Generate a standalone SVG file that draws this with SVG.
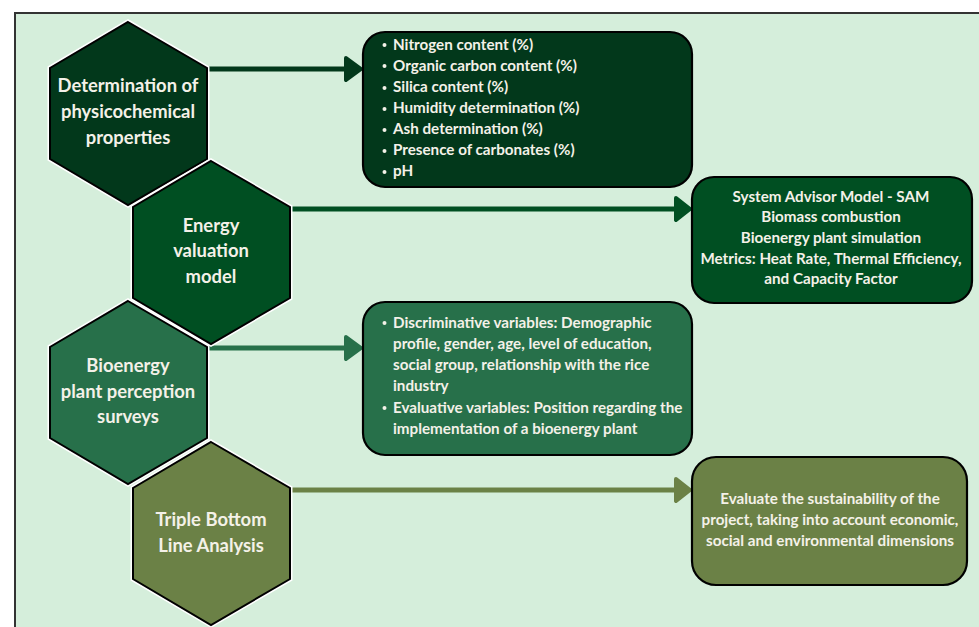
<svg xmlns="http://www.w3.org/2000/svg" width="979" height="627" viewBox="0 0 979 627">
<style>
.hex-under{stroke:#ffffff;stroke-width:5;stroke-linejoin:miter}
.hex{stroke:#000000;stroke-width:2;stroke-linejoin:miter}
.box{stroke:#000000;stroke-width:2.2}
.ht{font-family:Lato,"Open Sans","Liberation Sans",sans-serif;font-weight:700;font-size:18.4px;fill:#f4f1e8;text-anchor:middle}
.bt{font-family:Lato,"Open Sans","Liberation Sans",sans-serif;font-weight:700;font-size:15.2px;fill:#f4f1e8}
.bc{text-anchor:middle}
.dot{fill:#f4f1e8}
.c1{fill:#02381b}
.c2{fill:#004f22}
.c3{fill:#27704a}
.c4{fill:#6b8146}
</style>
<defs>
<polygon id="hexshape" points="0,-91 79,-45 79,46 0,92 -78,46 -78,-45"/>
<circle id="bul" r="2" cx="0" cy="0"/>
</defs>
<rect x="0" y="0" width="979" height="627" fill="#ffffff"/>
<rect x="15" y="13" width="980" height="630" fill="#d5eedb" stroke="#333333" stroke-width="2"/>

<g id="connectors" stroke-linejoin="round" stroke-linecap="butt">
<line x1="207" y1="69" x2="348" y2="69" stroke="#02381b" stroke-width="5"/>
<polygon points="346,58 361,69 346,80" fill="#02381b" stroke="#02381b" stroke-width="4"/>
<line x1="290" y1="209" x2="678" y2="209" stroke="#004f22" stroke-width="5"/>
<polygon points="676,198 690,209 676,220" fill="#004f22" stroke="#004f22" stroke-width="4"/>
<line x1="207" y1="348" x2="348" y2="348" stroke="#27704a" stroke-width="5"/>
<polygon points="346,337 361,348 346,359" fill="#27704a" stroke="#27704a" stroke-width="4"/>
<line x1="290" y1="490" x2="678" y2="490" stroke="#6b8146" stroke-width="5"/>
<polygon points="676,479 690,490 676,501" fill="#6b8146" stroke="#6b8146" stroke-width="4"/>
</g>

<g id="hex1">
<use href="#hexshape" x="128" y="113" class="hex-under c1"/>
<use href="#hexshape" x="128" y="113" class="hex c1"/>
<text class="ht" x="128" y="92">Determination of</text>
<text class="ht" x="128" y="118">physicochemical</text>
<text class="ht" x="128" y="144">properties</text>
</g>
<g id="hex2">
<use href="#hexshape" x="211" y="252" class="hex-under c2"/>
<use href="#hexshape" x="211" y="252" class="hex c2"/>
<text class="ht" x="211" y="232">Energy</text>
<text class="ht" x="211" y="257">valuation</text>
<text class="ht" x="211" y="283">model</text>
</g>
<g id="hex3">
<use href="#hexshape" x="128" y="392" class="hex-under c3"/>
<use href="#hexshape" x="128" y="392" class="hex c3"/>
<text class="ht" x="128" y="372">Bioenergy</text>
<text class="ht" x="128" y="398">plant perception</text>
<text class="ht" x="128" y="423">surveys</text>
</g>
<g id="hex4">
<use href="#hexshape" x="211" y="533" class="hex-under c4"/>
<use href="#hexshape" x="211" y="533" class="hex c4"/>
<text class="ht" x="211" y="526">Triple Bottom</text>
<text class="ht" x="211" y="552">Line Analysis</text>
</g>

<g id="box1">
<rect x="363" y="32" width="329" height="155" rx="22" class="box c1"/>
<g class="dot">
<use href="#bul" x="384.5" y="45"/>
<use href="#bul" x="384.5" y="66"/>
<use href="#bul" x="384.5" y="88"/>
<use href="#bul" x="384.5" y="109"/>
<use href="#bul" x="384.5" y="130"/>
<use href="#bul" x="384.5" y="151"/>
<use href="#bul" x="384.5" y="172"/>
</g>
<g class="bt">
<text x="393" y="50">Nitrogen content (%)</text>
<text x="393" y="71">Organic carbon content (%)</text>
<text x="393" y="92">Silica content (%)</text>
<text x="393" y="113">Humidity determination (%)</text>
<text x="393" y="134">Ash determination (%)</text>
<text x="393" y="155">Presence of carbonates (%)</text>
<text x="393" y="176">pH</text>
</g>
</g>

<g id="box2">
<rect x="692" y="177" width="280" height="126" rx="22" class="box c2"/>
<g class="bt bc">
<text x="831" y="202">System Advisor Model - SAM</text>
<text x="831" y="222">Biomass combustion</text>
<text x="831" y="243">Bioenergy plant simulation</text>
<text x="831" y="264">Metrics: Heat Rate, Thermal Efficiency,</text>
<text x="831" y="284">and Capacity Factor</text>
</g>
</g>

<g id="box3">
<rect x="363" y="302" width="329" height="153" rx="22" class="box c3"/>
<g class="dot">
<use href="#bul" x="384.5" y="323"/>
<use href="#bul" x="384.5" y="408"/>
</g>
<g class="bt">
<text x="393" y="328">Discriminative variables: Demographic</text>
<text x="393" y="349">profile, gender, age, level of education,</text>
<text x="393" y="370">social group, relationship with the rice</text>
<text x="393" y="391">industry</text>
<text x="393" y="413">Evaluative variables: Position regarding the</text>
<text x="393" y="434">implementation of a bioenergy plant</text>
</g>
</g>

<g id="box4">
<rect x="692" y="457" width="275" height="128" rx="24" class="box c4"/>
<g class="bt bc">
<text x="830" y="504">Evaluate the sustainability of the</text>
<text x="830" y="525">project, taking into account economic,</text>
<text x="830" y="546">social and environmental dimensions</text>
</g>
</g>
</svg>
